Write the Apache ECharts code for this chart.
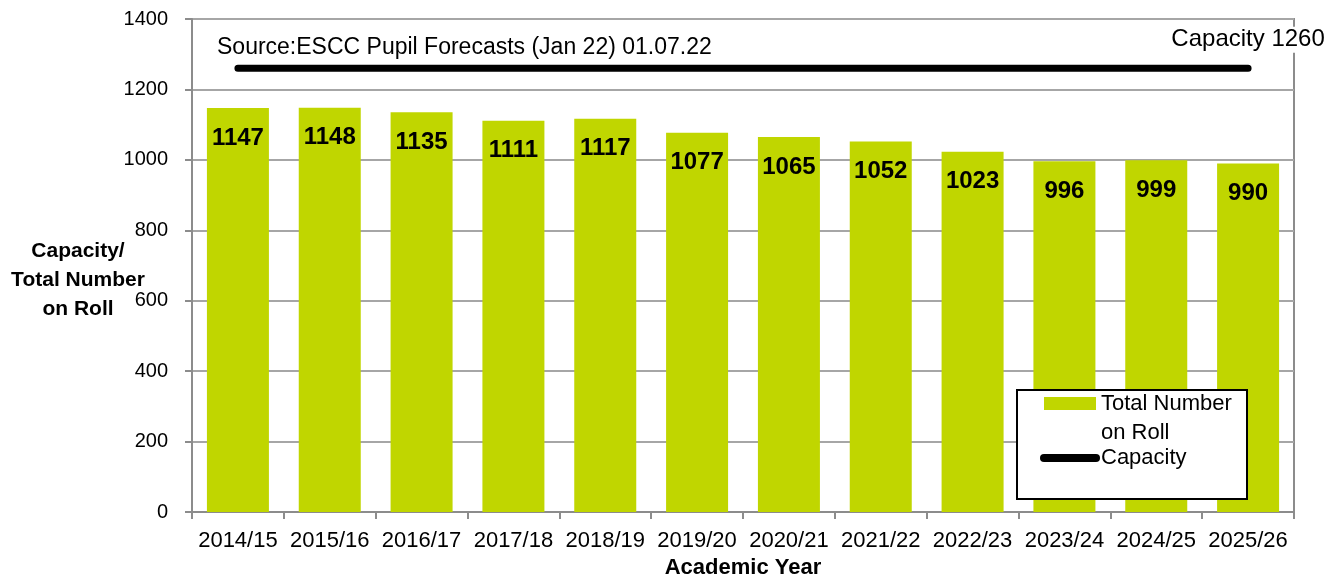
<!DOCTYPE html>
<html>
<head>
<meta charset="utf-8">
<script src="https://cdn.jsdelivr.net/npm/echarts@6/dist/echarts.min.js"></script>
<style>
html,body{margin:0;padding:0;background:#fff;}
#chart{width:1336px;height:576px;}
</style>
</head>
<body>
<div id="chart"></div>
<script>
const categories = ['2014/15','2015/16','2016/17','2017/18','2018/19','2019/20','2020/21','2021/22','2022/23','2023/24','2024/25','2025/26'];
const rollValues = [1147,1148,1135,1111,1117,1077,1065,1052,1023,996,999,990];
const capacityValues = [1260,1260,1260,1260,1260,1260,1260,1260,1260,1260,1260,1260];
const yTicks = {min: 0, max: 1400, interval: 200};
const sourceText = 'Source:ESCC Pupil Forecasts (Jan 22) 01.07.22';
const yAxisTitle = 'Capacity/\nTotal Number\non Roll';
const xAxisTitle = 'Academic Year';
const rollName = 'Total Number on Roll';
const capName = 'Capacity';

const FONT = '"Liberation Sans", Arial, sans-serif';
const chart = echarts.init(document.getElementById('chart'), null, {renderer: 'canvas'});

const capData = capacityValues.map((v, i) => i === capacityValues.length - 1
  ? {value: v, label: {show: true}} : {value: v});

chart.setOption({
  animation: false,
  textStyle: {fontFamily: FONT},
  title: [
    {text: sourceText, left: 212, top: 31,
     textStyle: {fontFamily: FONT, fontSize: 23, fontWeight: 'normal', color: '#000'}},
    {text: yAxisTitle, left: 73, top: 232, textAlign: 'center',
     textStyle: {fontFamily: FONT, fontSize: 21, fontWeight: 'bold', color: '#000', lineHeight: 29}}
  ],
  grid: {left: 192, right: 42, top: 19, bottom: 64, show: true, borderColor: '#8c8c8c', borderWidth: 2,
         backgroundColor: 'transparent', outerBoundsMode: 'none', containLabel: false},
  graphic: [
    {type: 'rect', z: 5, shape: {x: 1017, y: 390, width: 230, height: 109},
     style: {fill: '#fff', stroke: '#000', lineWidth: 2}}
  ],
  legend: {
    orient: 'vertical', left: 1040, top: 360, padding: 0, itemGap: 0, z: 10,
    itemWidth: 52, itemHeight: 13, selectedMode: false,
    textStyle: {fontFamily: FONT, fontSize: 22, color: '#000'},
    formatter: function (name) { return name === rollName ? '\nTotal Number\non Roll' : name; },
    data: [
      {name: rollName, icon: 'rect', textStyle: {lineHeight: 29}},
      {name: capName, lineStyle: {width: 8, cap: 'round', color: '#000'}, itemStyle: {opacity: 0}, textStyle: {lineHeight: 20}}
    ]
  },
  xAxis: {
    type: 'category', data: categories,
    name: xAxisTitle, nameLocation: 'middle', nameGap: 35,
    nameTextStyle: {fontFamily: FONT, fontSize: 22, fontWeight: 'bold', color: '#000'},
    axisLine: {lineStyle: {color: '#8c8c8c', width: 2}},
    axisTick: {show: true, length: 7, lineStyle: {color: '#8c8c8c', width: 2}},
    axisLabel: {fontFamily: FONT, fontSize: 22, color: '#000', margin: 18, interval: 0}
  },
  yAxis: {
    type: 'value', min: yTicks.min, max: yTicks.max, interval: yTicks.interval,
    axisLine: {show: true, lineStyle: {color: '#8c8c8c', width: 2}},
    axisTick: {show: true, length: 7, lineStyle: {color: '#8c8c8c', width: 2}},
    axisLabel: {fontFamily: FONT, fontSize: 20, color: '#000', margin: 24,
      formatter: function (v) { return String(v); }},
    splitLine: {lineStyle: {color: '#a6a6a6', width: 2}}
  },
  series: [
    {
      name: rollName, type: 'bar', data: rollValues, barWidth: 62,
      itemStyle: {color: '#c0d600'},
      label: {show: true, position: 'insideTop', distance: 18,
        fontFamily: FONT, fontSize: 24, fontWeight: 'bold', color: '#000'}
    },
    {
      name: capName, type: 'line', data: capData,
      symbol: 'circle', symbolSize: 1, showSymbol: true,
      itemStyle: {color: '#000'},
      lineStyle: {color: '#000', width: 7, cap: 'round'},
      z: 6,
      label: {show: false, position: 'top', distance: 15,
        formatter: function (p) { return 'Capacity ' + p.value; },
        fontFamily: FONT, fontSize: 24, color: '#000',
        backgroundColor: '#fff', padding: [1, 3]}
    }
  ]
});
</script>
</body>
</html>
